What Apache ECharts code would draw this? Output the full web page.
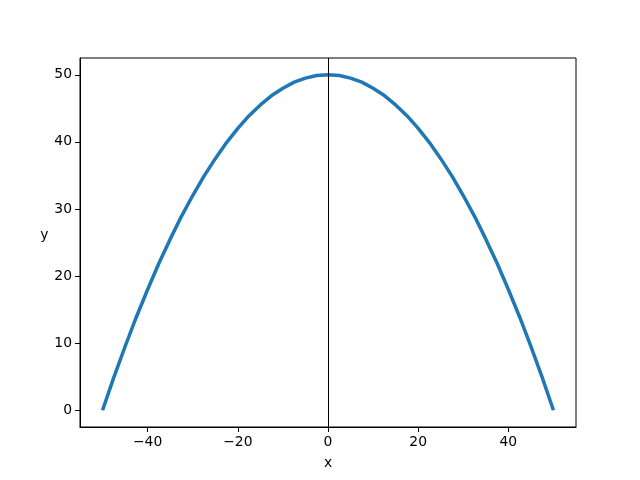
<!DOCTYPE html>
<html><head><meta charset="utf-8">
<script src="https://cdn.jsdelivr.net/npm/echarts@6/dist/echarts.min.js"></script>
<style>html,body{margin:0;padding:0;background:#fff}#c{width:640px;height:480px}</style>
</head><body><div id="c"></div>
<script>
const xs = [-50,-47.5,-45,-42.5,-40,-37.5,-35,-32.5,-30,-27.5,-25,-22.5,-20,-17.5,-15,-12.5,-10,-7.5,-5,-2.5,0,
            2.5,5,7.5,10,12.5,15,17.5,20,22.5,25,27.5,30,32.5,35,37.5,40,42.5,45,47.5,50];
const ys = [0,4.9,9.5,13.9,18,21.9,25.5,28.9,32,34.9,37.5,39.9,42,43.9,45.5,46.9,48,48.9,49.5,49.9,50,
            49.9,49.5,48.9,48,46.9,45.5,43.9,42,39.9,37.5,34.9,32,28.9,25.5,21.9,18,13.9,9.5,4.9,0];
const xTicks = [-40,-20,0,20,40];
const yTicks = [0,10,20,30,40,50];
const vLineX = 0;

const chart = echarts.init(document.getElementById('c'));
const font = 'DejaVu Sans';
const axisCommon = {
  axisLine:{show:true,onZero:false,lineStyle:{color:'#000',width:1}},
  splitLine:{show:false}
};
chart.setOption({
  animation:false,
  grid:{left:80,right:64,top:58,bottom:53,show:true,borderColor:'#000',borderWidth:1,containLabel:false},
  xAxis:Object.assign({type:'value',min:-55,max:55,name:'x',nameLocation:'middle',nameGap:29,
    nameTextStyle:{fontFamily:font,fontSize:13.9,color:'#000'},
    axisTick:{show:true,inside:false,length:5,customValues:xTicks,lineStyle:{color:'#000'}},
    axisLabel:{customValues:xTicks,fontFamily:font,fontSize:13.9,color:'#000',margin:8,
      formatter:v=>v<0?'\u2212'+(-v):String(v)}},axisCommon),
  yAxis:Object.assign({type:'value',min:-2.5,max:52.5,name:'y',nameLocation:'middle',nameRotate:0,nameGap:27,
    nameTextStyle:{fontFamily:font,fontSize:13.9,color:'#000',verticalAlign:'bottom'},
    axisTick:{show:true,inside:false,length:5,customValues:yTicks,lineStyle:{color:'#000'}},
    axisLabel:{customValues:yTicks,fontFamily:font,fontSize:13.9,color:'#000',margin:8}},axisCommon),
  series:[{type:'line',data:xs.map((x,i)=>[x,ys[i]]),smooth:false,showSymbol:false,symbol:'none',
    lineStyle:{color:'#1f77b4',width:3.5,join:'round',cap:'butt'},
    markLine:{silent:true,symbol:['none','none'],label:{show:false},
      lineStyle:{color:'#000',width:1,type:'solid'},data:[{xAxis:vLineX}]}}]
});
</script></body></html>
